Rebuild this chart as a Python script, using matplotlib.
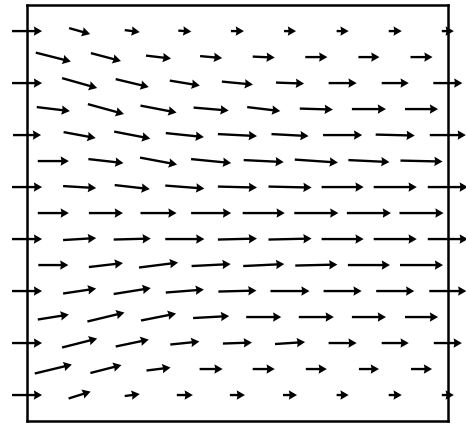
import numpy as np
import matplotlib.pyplot as plt

# Staggered lattice: odd rows sit on x = 0, 2, ..., 16, even rows on x = 1, 3, ..., 15.
# Rows listed from top (y = 15) to bottom (y = 1).
# Components are in pixels of arrow length (right = +u, up = +v).
row_y = [15, 14, 13, 12, 11, 10, 9, 8, 7, 6, 5, 4, 3, 2, 1]

u_rows = [
    [30, 21, 15, 13, 13, 12, 12, 13, 12],
    [35, 30, 25, 22, 22, 22, 21, 22],
    [30, 35, 33, 30, 31, 28, 28, 27, 29],
    [33, 36, 36, 35, 33, 33, 34, 33],
    [28, 32, 36, 38, 39, 37, 39, 39, 36],
    [31, 35, 37, 40, 40, 43, 41, 42],
    [30, 33, 35, 39, 39, 43, 42, 43, 40],
    [31, 34, 36, 40, 42, 44, 44, 44],
    [30, 33, 37, 39, 39, 43, 42, 43, 40],
    [30, 34, 39, 39, 41, 42, 42, 43],
    [30, 33, 37, 38, 38, 39, 38, 38, 37],
    [31, 37, 35, 36, 35, 35, 34, 33],
    [30, 35, 33, 29, 29, 30, 28, 27, 28],
    [37, 31, 24, 23, 22, 21, 20, 21],
    [30, 22, 15, 16, 15, 14, 12, 13, 12],
]

v_rows = [
    [0, -6, -2, -1, 0, 0, 0, 0, 0],
    [-9, -8, -3, -2, -1, 0, 0, 0],
    [0, -10, -8, -5, -3, -1, 0, 0, 0],
    [-4, -10, -7, -3, -4, -1, 0, 0],
    [0, -6, -7, -4, -2, -2, 0, -1, 0],
    [0, -4, -7, -4, -2, -3, -2, -1],
    [0, -2, -4, -3, -1, -1, 0, 0, 0],
    [0, 0, 0, 0, 0, 0, 0, 0],
    [0, 2, 1, 0, 1, 1, 0, 0, 0],
    [0, 4, 5, 2, 2, 1, 0, 0],
    [0, 5, 6, 3, 1, 0, 0, 0, 0],
    [5, 9, 7, 2, 0, 0, 0, 0],
    [0, 9, 7, 3, 1, 2, 0, 0, 0],
    [9, 8, 3, 0, 0, 0, 0, 0],
    [0, 7, 2, 0, 0, 0, 0, 0, 0],
]

X, Y, U, V = [], [], [], []
for y, us, vs in zip(row_y, u_rows, v_rows):
    start = 0 if len(us) == 9 else 1
    for k, (u, v) in enumerate(zip(us, vs)):
        X.append(start + 2 * k)
        Y.append(y)
        U.append(u)
        V.append(v)
X, Y, U, V = map(np.array, (X, Y, U, V))

fig = plt.figure(figsize=(4.66, 4.24), dpi=100, facecolor='white')
ax = fig.add_axes([0.058, 0.007, 0.903, 0.981])

px = 26.25  # pixels per grid unit
q = ax.quiver(X, Y, U, V, pivot='middle', angles='xy', scale_units='xy',
              scale=px, units='xy', width=0.09, headwidth=4.0,
              headlength=3.5, headaxislength=3.2, color='black')
q.set_clip_on(False)

ax.set_xlim(0, 16)
ax.set_ylim(0, 16)
ax.set_xticks([])
ax.set_yticks([])
for s in ax.spines.values():
    s.set_linewidth(1.8)
    s.set_color('black')

fig.savefig('out.png', dpi=100, facecolor='white')
